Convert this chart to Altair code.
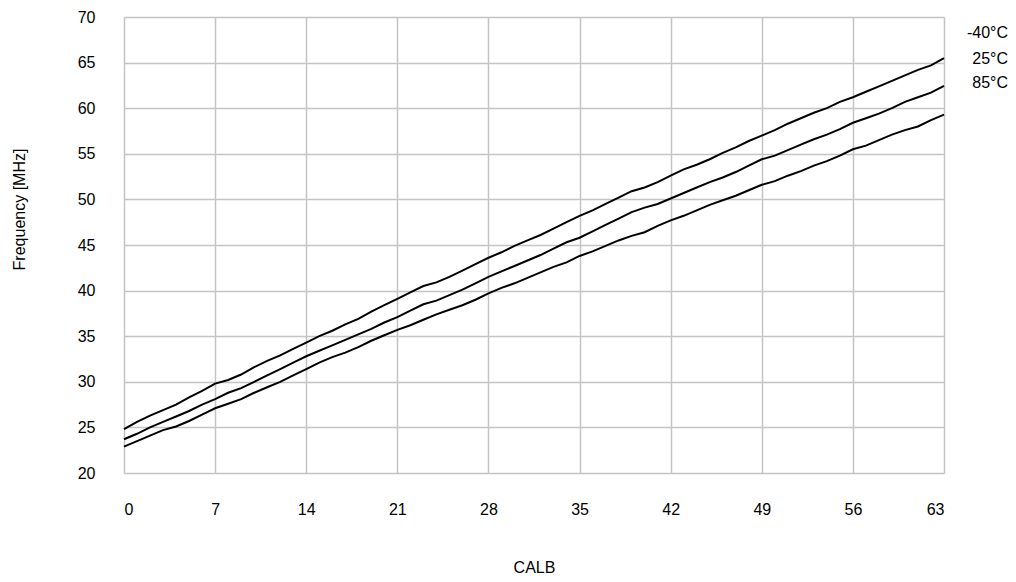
import altair as alt
import pandas as pd

calb = list(range(64))

f_m40 = [24.8, 25.6, 26.3, 26.9, 27.5, 28.3, 29.0, 29.8, 30.2, 30.8,
         31.6, 32.3, 32.9, 33.6, 34.3, 35.0, 35.6, 36.3, 36.9, 37.7,
         38.4, 39.1, 39.8, 40.5, 40.9, 41.5, 42.2, 42.9, 43.6, 44.2,
         44.9, 45.5, 46.1, 46.8, 47.5, 48.2, 48.8, 49.5, 50.2, 50.9,
         51.3, 51.9, 52.6, 53.3, 53.8, 54.4, 55.1, 55.7, 56.4, 57.0,
         57.6, 58.3, 58.9, 59.5, 60.0, 60.7, 61.2, 61.8, 62.4, 63.0,
         63.6, 64.2, 64.7, 65.5]

f_25 = [23.7, 24.3, 25.0, 25.6, 26.2, 26.8, 27.5, 28.1, 28.8, 29.3,
        30.0, 30.7, 31.4, 32.1, 32.8, 33.4, 34.0, 34.6, 35.2, 35.8,
        36.5, 37.1, 37.8, 38.5, 38.9, 39.5, 40.1, 40.8, 41.5, 42.1,
        42.7, 43.3, 43.9, 44.6, 45.3, 45.8, 46.5, 47.2, 47.9, 48.6,
        49.1, 49.5, 50.1, 50.7, 51.3, 51.9, 52.4, 53.0, 53.7, 54.4,
        54.8, 55.4, 56.0, 56.6, 57.1, 57.7, 58.4, 58.9, 59.4, 60.0,
        60.7, 61.2, 61.7, 62.45]

f_85 = [22.9, 23.5, 24.1, 24.7, 25.1, 25.7, 26.4, 27.1, 27.6, 28.1,
        28.8, 29.4, 30.0, 30.7, 31.4, 32.1, 32.7, 33.2, 33.8, 34.5,
        35.1, 35.7, 36.2, 36.8, 37.4, 37.9, 38.4, 39.0, 39.7, 40.3,
        40.8, 41.4, 42.0, 42.6, 43.1, 43.8, 44.3, 44.9, 45.5, 46.0,
        46.4, 47.1, 47.7, 48.2, 48.8, 49.4, 49.9, 50.4, 51.0, 51.6,
        52.0, 52.6, 53.1, 53.7, 54.2, 54.8, 55.5, 55.9, 56.5, 57.1,
        57.6, 58.0, 58.7, 59.3]

series_names = ["-40°C", "25°C", "85°C"]
x_ticks = [0, 7, 14, 21, 28, 35, 42, 49, 56, 63]
y_ticks = [20, 25, 30, 35, 40, 45, 50, 55, 60, 65, 70]

rows = []
for name, vals in zip(series_names, [f_m40, f_25, f_85]):
    for c, v in zip(calb, vals):
        rows.append({"CALB": c, "Freq": v, "Temp": name})
df = pd.DataFrame(rows)

FONT = "Liberation Sans"
W, H = 820, 456

x_enc = alt.X("CALB:Q",
              scale=alt.Scale(domain=[0, 63], nice=False, zero=False),
              axis=alt.Axis(values=x_ticks, title="CALB", labelFontSize=16,
                            titleFontSize=16, titleFontWeight="normal",
                            labelPadding=28, titlePadding=42, ticks=False,
                            domain=False, gridColor="#c4c4c4", gridWidth=1.5,
                            labelFont=FONT, titleFont=FONT, labelColor="#000",
                            titleColor="#000"))
y_enc = alt.Y("Freq:Q",
              scale=alt.Scale(domain=[20, 70], nice=False, zero=False),
              axis=alt.Axis(values=y_ticks, title="Frequency [MHz]",
                            labelFontSize=16, titleFontSize=16,
                            titleFontWeight="normal", labelPadding=29,
                            titlePadding=50, titleY=192, ticks=False,
                            domain=False, gridColor="#c4c4c4", gridWidth=1.5,
                            labelFont=FONT, titleFont=FONT, labelColor="#000",
                            titleColor="#000"))

lines = alt.Chart(df).mark_line(color="black", strokeWidth=2).encode(
    x=x_enc, y=y_enc, detail="Temp:N"
)

label_layers = []
for name, ypx in zip(series_names, [16, 42, 66]):
    label_layers.append(
        alt.Chart(pd.DataFrame({"t": [name]})).mark_text(
            align="right", baseline="middle", fontSize=16, font=FONT,
            color="black"
        ).encode(x=alt.value(W + 64), y=alt.value(ypx), text="t:N")
    )

chart = alt.layer(lines, *label_layers).properties(
    width=W, height=H,
    autosize=alt.AutoSizeParams(type="none"),
    padding={"left": 116, "top": 9, "right": 64, "bottom": 101},
).configure_view(stroke="#888888", strokeWidth=2).configure(background="white")

chart.save("out.html", embed_options={"renderer": "svg", "actions": False})
